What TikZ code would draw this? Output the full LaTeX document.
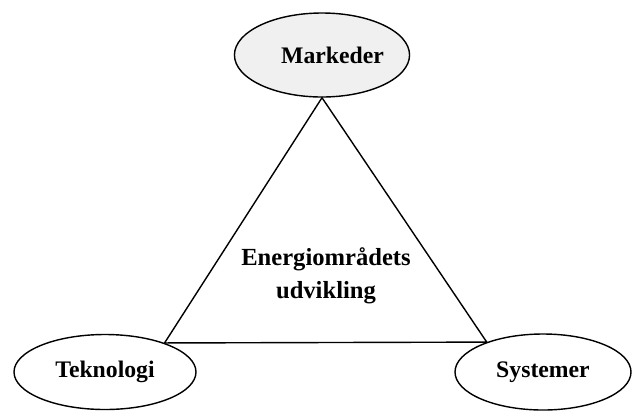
\documentclass[tikz,border=0pt]{standalone}
\usepackage{fontspec}
\setmainfont{Liberation Serif}
\usepackage{tikz}
\usetikzlibrary{positioning, shapes.geometric}

\tikzset{
  topic/.style={draw, ellipse, line width=0.8pt, inner sep=0pt, font=\bfseries\fontsize{13.5}{16}\selectfont},
}

\begin{document}
\begin{tikzpicture}[x=0.02cm, y=-0.02cm, line width=0.8pt]
\useasboundingbox (0,0) rectangle (632,410);

\node [topic, fill=gray!12, minimum width=170*0.02cm, minimum height=84*0.02cm] (mark) at (322,55) {\hspace{12pt}Markeder};
\node [topic, minimum width=182*0.02cm, minimum height=75*0.02cm] (tek) at (105,372) {Teknologi};
\node [topic, minimum width=176*0.02cm, minimum height=76*0.02cm] (sys) at (543,372) {\raisebox{-4pt}{Systemer}};

\draw (mark.south) -- (tek.26) -- (sys.152) -- cycle;

\node [align=center, font=\bfseries\fontsize{14}{19}\selectfont] (center) at (326,276) {Energiområdets\\udvikling};

\end{tikzpicture}
\end{document}
